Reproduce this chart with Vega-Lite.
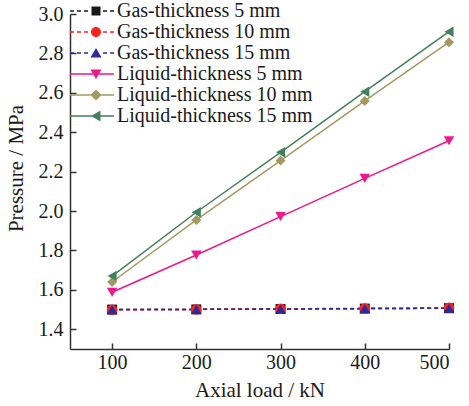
{
  "$schema": "https://vega.github.io/schema/vega-lite/v6.json",
  "width": 379,
  "height": 335,
  "autosize": {"type": "none"},
  "padding": {"left": 70, "top": 14, "right": 20, "bottom": 57},
  "background": "white",
  "config": {
    "view": {"stroke": null},
    "font": "Liberation Serif",
    "axis": {
      "labelFont": "Liberation Serif",
      "titleFont": "Liberation Serif",
      "labelFontSize": 20,
      "titleFontSize": 21,
      "titleFontWeight": "normal",
      "labelColor": "#1a1a1a",
      "titleColor": "#1a1a1a",
      "domainColor": "#333333",
      "tickColor": "#333333",
      "domainWidth": 1.5,
      "tickWidth": 1.5,
      "grid": false,
      "tickSize": -6
    },
    "legend": {
      "orient": "none",
      "legendX": 16,
      "legendY": -13,
      "padding": 0,
      "symbolSize": 100,
      "labelFont": "Liberation Serif",
      "labelFontSize": 20,
      "labelColor": "#1a1a1a",
      "labelLimit": 400,
      "labelOffset": 11,
      "rowPadding": 1,
      "symbolStrokeWidth": 0,
      "symbolOpacity": 1
    }
  },
  "data": {
    "values": [
      {"load": 100, "p": 1.500, "series": "Gas-thickness 5 mm"},
      {"load": 200, "p": 1.501, "series": "Gas-thickness 5 mm"},
      {"load": 300, "p": 1.503, "series": "Gas-thickness 5 mm"},
      {"load": 400, "p": 1.505, "series": "Gas-thickness 5 mm"},
      {"load": 500, "p": 1.507, "series": "Gas-thickness 5 mm"},
      {"load": 100, "p": 1.499, "series": "Gas-thickness 10 mm"},
      {"load": 200, "p": 1.501, "series": "Gas-thickness 10 mm"},
      {"load": 300, "p": 1.504, "series": "Gas-thickness 10 mm"},
      {"load": 400, "p": 1.506, "series": "Gas-thickness 10 mm"},
      {"load": 500, "p": 1.509, "series": "Gas-thickness 10 mm"},
      {"load": 100, "p": 1.500, "series": "Gas-thickness 15 mm"},
      {"load": 200, "p": 1.501, "series": "Gas-thickness 15 mm"},
      {"load": 300, "p": 1.503, "series": "Gas-thickness 15 mm"},
      {"load": 400, "p": 1.505, "series": "Gas-thickness 15 mm"},
      {"load": 500, "p": 1.507, "series": "Gas-thickness 15 mm"},
      {"load": 100, "p": 1.588, "series": "Liquid-thickness 5 mm"},
      {"load": 200, "p": 1.777, "series": "Liquid-thickness 5 mm"},
      {"load": 300, "p": 1.972, "series": "Liquid-thickness 5 mm"},
      {"load": 400, "p": 2.166, "series": "Liquid-thickness 5 mm"},
      {"load": 500, "p": 2.357, "series": "Liquid-thickness 5 mm"},
      {"load": 100, "p": 1.640, "series": "Liquid-thickness 10 mm"},
      {"load": 200, "p": 1.955, "series": "Liquid-thickness 10 mm"},
      {"load": 300, "p": 2.256, "series": "Liquid-thickness 10 mm"},
      {"load": 400, "p": 2.559, "series": "Liquid-thickness 10 mm"},
      {"load": 500, "p": 2.857, "series": "Liquid-thickness 10 mm"},
      {"load": 100, "p": 1.670, "series": "Liquid-thickness 15 mm"},
      {"load": 200, "p": 1.994, "series": "Liquid-thickness 15 mm"},
      {"load": 300, "p": 2.298, "series": "Liquid-thickness 15 mm"},
      {"load": 400, "p": 2.606, "series": "Liquid-thickness 15 mm"},
      {"load": 500, "p": 2.910, "series": "Liquid-thickness 15 mm"}
    ]
  },
  "encoding": {
    "x": {
      "field": "load",
      "type": "quantitative",
      "scale": {"domain": [50, 500], "nice": false, "zero": false},
      "axis": {
        "title": "Axial load / kN",
        "values": [100, 200, 300, 400, 500],
        "labelPadding": 9,
        "titlePadding": 7
      }
    },
    "y": {
      "field": "p",
      "type": "quantitative",
      "scale": {"domain": [1.3, 3.0], "nice": false, "zero": false},
      "axis": {
        "title": "Pressure / MPa",
        "values": [1.4, 1.6, 1.8, 2.0, 2.2, 2.4, 2.6, 2.8, 3.0],
        "format": ".1f",
        "labelPadding": 13,
        "titleX": -44,
        "titleY": 154
      }
    },
    "color": {
      "field": "series",
      "type": "nominal",
      "scale": {
        "domain": ["Gas-thickness 5 mm", "Gas-thickness 10 mm", "Gas-thickness 15 mm", "Liquid-thickness 5 mm", "Liquid-thickness 10 mm", "Liquid-thickness 15 mm"],
        "range": ["#1a1a1a", "#ff2020", "#2b2b99", "#f0168c", "#a39a62", "#43805f"]
      }
    }
  },
  "layer": [
    {
      "transform": [{"filter": "datum.load < 0"}],
      "mark": {"type": "point", "filled": true, "size": 100, "opacity": 1},
      "encoding": {
        "color": {
          "field": "series",
          "type": "nominal",
          "legend": {"title": null}
        },
        "shape": {
          "field": "series",
          "type": "nominal",
          "scale": {
            "domain": ["Gas-thickness 5 mm", "Gas-thickness 10 mm", "Gas-thickness 15 mm", "Liquid-thickness 5 mm", "Liquid-thickness 10 mm", "Liquid-thickness 15 mm"],
            "range": [
              "M-5.2,-0.15H-4.4V0.15H-5.2ZM-3.8,-0.15H-3V0.15H-3.8ZM-2.4,-0.15H-1.6V0.15H-2.4ZM1.4,-0.15H2.2V0.15H1.4ZM2.8,-0.15H3.6V0.15H2.8ZM-0.9,-0.9H0.9V0.9H-0.9Z",
              "M-5.2,-0.15H-4.4V0.15H-5.2ZM-3.8,-0.15H-3V0.15H-3.8ZM-2.4,-0.15H-1.6V0.15H-2.4ZM1.4,-0.15H2.2V0.15H1.4ZM2.8,-0.15H3.6V0.15H2.8ZM1,0A1,1,0,1,1,-1,0A1,1,0,1,1,1,0Z",
              "M-5.2,-0.15H-4.4V0.15H-5.2ZM-3.8,-0.15H-3V0.15H-3.8ZM-2.4,-0.15H-1.6V0.15H-2.4ZM1.4,-0.15H2.2V0.15H1.4ZM2.8,-0.15H3.6V0.15H2.8ZM0,-1L1.1,0.9L-1.1,0.9Z",
              "M-5.2,-0.15H3.6V0.15H-5.2ZM-1.1,-0.9L1.1,-0.9L0,1Z",
              "M-5.2,-0.15H3.6V0.15H-5.2ZM0,-1.1L1.1,0L0,1.1L-1.1,0Z",
              "M-5.2,-0.15H3.6V0.15H-5.2ZM-1,0L0.9,-1.1L0.9,1.1Z"
            ]
          },
          "legend": {"title": null}
        }
      }
    },
    {
      "transform": [{"filter": "indexof(datum.series, 'Gas') === 0"}],
      "mark": {"type": "line", "strokeWidth": 1.5, "strokeDash": [4, 3]}
    },
    {
      "transform": [{"filter": "indexof(datum.series, 'Liquid') === 0"}],
      "mark": {"type": "line", "strokeWidth": 1.5}
    },
    {
      "transform": [{"filter": "datum.series === 'Gas-thickness 5 mm'"}],
      "mark": {"type": "point", "filled": true, "size": 100, "opacity": 1, "shape": "square"}
    },
    {
      "transform": [{"filter": "datum.series === 'Gas-thickness 10 mm'"}],
      "mark": {"type": "point", "filled": true, "size": 110, "opacity": 1, "shape": "circle"}
    },
    {
      "transform": [{"filter": "datum.series === 'Gas-thickness 15 mm'"}],
      "mark": {"type": "point", "filled": true, "size": 110, "opacity": 1, "shape": "triangle-up"}
    },
    {
      "transform": [{"filter": "datum.series === 'Liquid-thickness 5 mm'"}],
      "mark": {"type": "point", "filled": true, "size": 110, "opacity": 1, "shape": "triangle-down"}
    },
    {
      "transform": [{"filter": "datum.series === 'Liquid-thickness 10 mm'"}],
      "mark": {"type": "point", "filled": true, "size": 100, "opacity": 1, "shape": "diamond"}
    },
    {
      "transform": [{"filter": "datum.series === 'Liquid-thickness 15 mm'"}],
      "mark": {"type": "point", "filled": true, "size": 110, "opacity": 1, "shape": "triangle-left"}
    }
  ]
}
